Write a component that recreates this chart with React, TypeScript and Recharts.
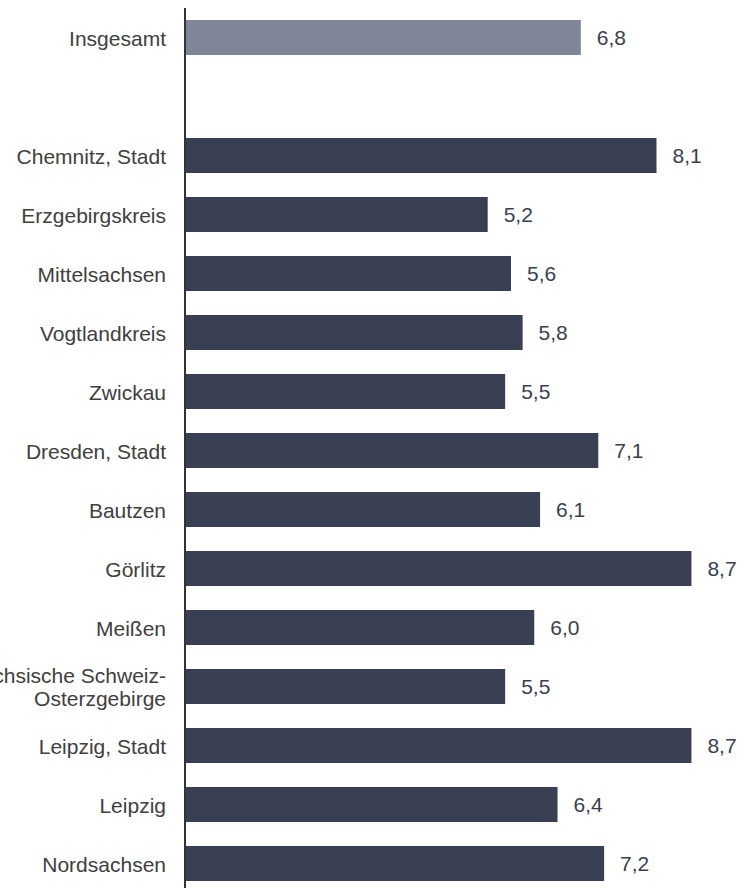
import { BarChart, Bar, XAxis, YAxis, Cell, LabelList } from 'recharts'

const regions = [
  'Insgesamt',
  '',
  'Chemnitz, Stadt',
  'Erzgebirgskreis',
  'Mittelsachsen',
  'Vogtlandkreis',
  'Zwickau',
  'Dresden, Stadt',
  'Bautzen',
  'Görlitz',
  'Meißen',
  'Sächsische Schweiz-Osterzgebirge',
  'Leipzig, Stadt',
  'Leipzig',
  'Nordsachsen',
]

const shares: (number | null)[] = [6.8, null, 8.1, 5.2, 5.6, 5.8, 5.5, 7.1, 6.1, 8.7, 6.0, 5.5, 8.7, 6.4, 7.2]

const chartData = regions.map((name, i) => ({ name, value: shares[i] }))

const FONT = '"Liberation Sans", Arial, sans-serif'

function RegionTick({ x, y, payload }: any) {
  const label: string = payload.value
  if (!label) return null
  // long names break after the hyphen
  const idx = label.indexOf('-')
  const lines = idx > 0 && idx < label.length - 1 ? [label.slice(0, idx + 1), label.slice(idx + 1)] : [label]
  const lh = 23
  const start = y - ((lines.length - 1) * lh) / 2
  return (
    <text x={x - 11} y={start} textAnchor="end" fill="#404040" fontSize={21} fontFamily={FONT} dominantBaseline="central">
      {lines.map((l, i) => (
        <tspan key={i} x={x - 11} y={start + i * lh}>{l}</tspan>
      ))}
    </text>
  )
}

function ValueLabel({ x, y, width, height, value }: any) {
  if (value == null) return null
  return (
    <text x={x + width + 16} y={y + height / 2} fill="#3a3f4f" fontSize={21} fontFamily={FONT} dominantBaseline="central">
      {Number(value).toFixed(1).replace('.', ',')}
    </text>
  )
}

export default function App() {
  return (
    <div style={{ position: 'absolute', left: 0, top: 0, width: 742, height: 888, overflow: 'hidden', background: '#fff' }}>
      <BarChart
        width={742}
        height={893}
        data={chartData}
        layout="vertical"
        margin={{ top: 8, right: 4, left: 0, bottom: 0 }}
      >
        <XAxis type="number" domain={[0, 9.5]} hide />
        <YAxis
          type="category"
          dataKey="name"
          width={185}
          interval={0}
          tickLine={false}
          axisLine={{ stroke: '#333', strokeWidth: 2 }}
          tick={<RegionTick />}
        />
        <Bar dataKey="value" barSize={35} isAnimationActive={false}>
          {chartData.map((d, i) => (
            <Cell key={i} fill={d.name === 'Insgesamt' ? '#7e8698' : '#394053'} />
          ))}
          <LabelList dataKey="value" content={<ValueLabel />} />
        </Bar>
      </BarChart>
    </div>
  )
}
